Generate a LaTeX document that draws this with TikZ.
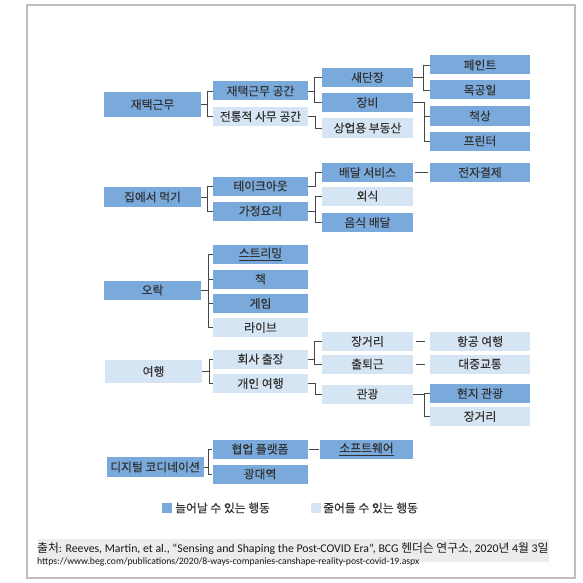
\documentclass[tikz,border=0pt]{standalone}
\usepackage{fontspec}
\setmainfont{Carlito}
\newfontfamily\kr{Noto Sans CJK KR}
\newfontfamily\krb{Noto Sans CJK KR}[FakeBold=0.35]
\definecolor{hiblue}{RGB}{122,170,220}
\definecolor{loblue}{RGB}{214,229,244}
\definecolor{txt}{RGB}{50,50,50}
\definecolor{ln}{RGB}{70,70,70}
\definecolor{frm}{RGB}{190,190,190}
\definecolor{band}{RGB}{236,236,236}
\begin{document}
\begin{tikzpicture}[x=1pt,y=-1pt,
  box/.style={inner sep=0pt, minimum height=19pt, font=\krb\fontsize{11.8}{13}\selectfont, text=txt},
  hi/.style={box, fill=hiblue},
  lo/.style={box, fill=loblue},
  Lzero/.style={minimum width=97pt},
  Lone/.style={minimum width=95pt},
  Ltwo/.style={minimum width=91pt},
  Lthree/.style={minimum width=100pt},
  keybox/.style={inner sep=0pt, minimum width=10pt, minimum height=10pt},
  keytxt/.style={anchor=west, inner sep=0pt, font=\krb\fontsize{11.8}{13}\selectfont, text=txt},
  conn/.style={draw=ln, line width=0.9pt},
  srcA/.style={anchor=base west, inner sep=0pt, font=\fontsize{11.8}{13}\selectfont, text=black!90},
  srcB/.style={anchor=base west, inner sep=0pt, font=\fontsize{9.7}{11}\selectfont, text=black!90}
]
\useasboundingbox (0,0) rectangle (582,583);
\fill[white] (0,0) rectangle (582,583);
\draw[frm, line width=1.6pt] (27,5) rectangle (575,578);

% level 0
\node[hi,Lzero,minimum height=25pt] (a1) at (152.5,104.5) {재택근무};
\node[hi,Lzero,minimum height=20pt] (a2) at (152.5,197) {집에서 먹기};
\node[hi,Lzero] (a3) at (152.5,290) {오락};
\node[lo,Lzero,minimum height=23pt] (a4) at (153.5,371.5) {여행};
\node[hi,Lzero,minimum height=20pt] (a5) at (155,467) {디지털 코디네이션};

% level 1
\node[hi,Lone] (b1) at (260.5,91) {재택근무 공간};
\node[lo,Lone] (b2) at (260.5,116.5) {전통적 사무 공간};
\node[hi,Lone] (b3) at (260.5,186) {테이크아웃};
\node[hi,Lone] (b4) at (260.5,211) {가정요리};
\node[hi,Lone] (b5) at (260.5,254) {\underline{스트리밍}};
\node[hi,Lone] (b6) at (260.5,279) {책};
\node[hi,Lone] (b7) at (260.5,303.5) {게임};
\node[lo,Lone] (b8) at (260.5,327.5) {라이브};
\node[lo,Lone] (b9) at (260.5,359) {회사 출장};
\node[lo,Lone] (b10) at (260.5,383.5) {개인 여행};
\node[hi,Lone] (b11) at (260,449) {협업 플랫폼};
\node[hi,Lone] (b12) at (260,474) {광대역};

% level 2
\node[hi,Ltwo] (c1) at (367.5,77.5) {새단장};
\node[hi,Ltwo] (c2) at (367.5,102.5) {장비};
\node[lo,Ltwo] (c3) at (367.5,128) {상업용 부동산};
\node[hi,Ltwo] (c4) at (367.5,172.5) {배달 서비스};
\node[lo,Ltwo] (c5) at (367.5,196) {외식};
\node[hi,Ltwo] (c6) at (367.5,222.5) {음식 배달};
\node[lo,Ltwo] (c7) at (367.5,341.5) {장거리};
\node[lo,Ltwo] (c8) at (367.5,364) {출퇴근};
\node[lo,Ltwo] (c9) at (367.5,394) {관광};
\node[hi,minimum width=93pt,box] (c10) at (366.5,449) {\underline{소프트웨어}};

% level 3
\node[hi,Lthree] (d1) at (480,65) {페인트};
\node[hi,Lthree] (d2) at (480,90) {목공일};
\node[hi,Lthree] (d3) at (480,116) {책상};
\node[hi,Lthree] (d4) at (480,141) {프린터};
\node[hi,Lthree] (d5) at (480,172.5) {전자결제};
\node[lo,Lthree] (d6) at (480,341.5) {항공 여행};
\node[lo,Lthree] (d7) at (480,364) {대중교통};
\node[hi,Lthree] (d8) at (480,393.5) {현지 관광};
\node[lo,Lthree] (d9) at (480,416.5) {장거리};

% brackets level 0 -> 1
\foreach \c in {b1,b2} \draw[conn] (a1.east) -- ++(6,0) |- (\c.west);
\foreach \c in {b3,b4} \draw[conn] (a2.east) -- ++(6,0) |- (\c.west);
\foreach \c in {b5,b6,b7,b8} \draw[conn] (a3.east) -- ++(7,0) |- (\c.west);
\foreach \c in {b9,b10} \draw[conn] (a4.east) -- ++(7,0) |- (\c.west);
\foreach \c in {b11,b12} \draw[conn] (a5.east) -- ++(5,0) |- (\c.west);

% brackets level 1 -> 2
\foreach \c in {c1,c2} \draw[conn] (b1.east) -- ++(6,0) |- (\c.west);
\draw[conn] (b2.east) -- ++(7,0) |- (c3.west);
\draw[conn] (b3.east) -- ++(7,0) |- (c4.west);
\foreach \c in {c5,c6} \draw[conn] (b4.east) -- ++(7,0) |- (\c.west);
\foreach \c in {c7,c8} \draw[conn] (b9.east) -- ++(6,0) |- (\c.west);
\draw[conn] (b10.east) -- ++(7,0) |- (c9.west);

% brackets level 2 -> 3
\foreach \c in {d1,d2} \draw[conn] (c1.east) -- ++(10,0) |- (\c.west);
\foreach \c in {d3,d4} \draw[conn] (c2.east) -- ++(11,0) |- (\c.west);
\foreach \c in {d8,d9} \draw[conn] (c9.east) -- ++(11,0) |- (\c.west);

% straight connectors
\draw[conn, shorten <=2pt, shorten >=2pt] (c4.east) -- (d5.west);
\draw[conn, shorten <=3pt, shorten >=5pt] (c7.east) -- (d6.west);
\draw[conn, shorten <=3pt, shorten >=5pt] (c8.east) -- (d7.west);
\draw[conn, shorten <=1pt, shorten >=1pt] (b11.east) -- (c10.west);

% legend
\node[keybox, fill=hiblue] (k1) at (167,508) {};
\node[keytxt] (k1t) at (175,508) {늘어날 수 있는 행동};
\node[keybox, fill=loblue] (k2) at (316,508) {};
\node[keytxt] (k2t) at (323,508) {줄어들 수 있는 행동};

% source
\fill[band] (38,539) rectangle (549,562);
\node[srcA] (s1) at (37,552) {{\kr 출처}: Reeves, Martin, et al., “Sensing and Shaping the Post-COVID Era”, BCG {\kr 헨더슨 연구소}, 2020{\kr 년} 4{\kr 월} 3{\kr 일}};
\node[srcB] (s2) at (37,564) {https://www.beg.com/publications/2020/8-ways-companies-canshape-reality-post-covid-19.aspx};
\end{tikzpicture}
\end{document}
